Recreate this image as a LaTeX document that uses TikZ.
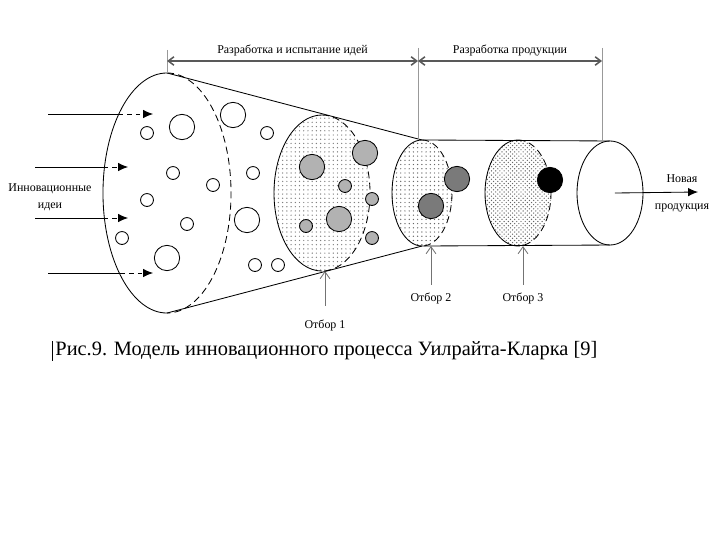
\documentclass[tikz,border=0pt]{standalone}
\usepackage{fontspec}
\setmainfont{Liberation Serif}
\usetikzlibrary{arrows.meta,positioning,shapes.geometric,patterns}

\tikzset{
  stage/.style={ellipse,inner sep=0pt,outer sep=0pt},
  lbl/.style={font=\fontsize{8.5}{12}\selectfont,inner sep=1pt,align=center},
  idea/.style={draw,fill=white},
  dimln/.style={draw=black!65,line width=1.1pt,
    {Straight Barb[length=4pt,width=6pt]}-{Straight Barb[length=4pt,width=6pt]}},
  extln/.style={draw=black!40,line width=0.5pt},
  selarr/.style={draw=black!55,-{Straight Barb[length=5pt,width=7pt]}},
  inarr/.style={-{Latex[length=7pt,width=6pt]}},
  halfdash/.style={dash pattern=on 5pt off 3pt}
}
% solid left half, dashed right half of an oval node
\newcommand\halfoval[3]{%
  \draw (#1.north) arc[start angle=90,end angle=270,x radius=#2,y radius=#3];
  \draw[halfdash] (#1.north) arc[start angle=90,end angle=-90,x radius=#2,y radius=#3];}

\begin{document}
\begin{tikzpicture}[x=0.025cm,y=-0.025cm,line width=0.6pt]
  \useasboundingbox (0,0) rectangle (720,540);

  % stages
  \node[stage,minimum width=3.2cm,minimum height=6cm] (big) at (167,193) {};
  \node[stage,minimum width=2.4cm,minimum height=3.9cm,pattern=dots,pattern color=black!50] (e1) at (322,193) {};
  \node[stage,minimum width=1.5cm,minimum height=2.65cm,pattern=dots,pattern color=black!60] (e2) at (422,193) {};
  \node[stage,minimum width=1.65cm,minimum height=2.65cm,pattern=crosshatch dots,pattern color=black!60] (e3) at (518,193) {};
  \node[stage,draw,minimum width=1.65cm,minimum height=2.6cm] (e4) at (610,193) {};

  % funnel and tube
  \draw (big.north) -- (e2.north) -- (e4.north);
  \draw (big.south) -- (e2.south) -- (e4.south);
  \halfoval{big}{1.6cm}{3cm}
  \halfoval{e1}{1.2cm}{1.95cm}
  \halfoval{e2}{0.75cm}{1.325cm}
  \halfoval{e3}{0.825cm}{1.325cm}

  % ideas
  \foreach \x/\y/\r in {182/127/9pt,147/133/4.6pt,233/115/9pt,267/133/4.6pt,173/173/4.6pt,
      253/173/4.6pt,213/185/4.6pt,147/200/4.6pt,247/220/9pt,187/224/4.6pt,
      122/238/4.6pt,167/258/9pt,255/265/4.6pt,278/265/4.6pt}
    \draw[idea] (\x,\y) circle[radius=\r];
  \foreach \x/\y/\r in {312/167/9pt,365/153/9pt,345/186/4.6pt,372/199/4.6pt,
      339/219/9pt,306/226/4.6pt,372/238/4.6pt}
    \draw[idea,fill=black!30] (\x,\y) circle[radius=\r];
  \draw[idea,fill=black!52] (457,179) circle[radius=9pt];
  \draw[idea,fill=black!52] (431,206) circle[radius=9pt];
  \draw[idea,fill=black] (550,180) circle[radius=9pt];

  % incoming ideas
  \foreach \y/\xa/\xb/\xc [count=\i] in {114/48/119/153,167/35/104/128,218/35/104/128,273/48/121/153}{
    \coordinate (src\i) at (\xa,\y);
    \coordinate (rim\i) at (\xb,\y);
    \coordinate (tip\i) at (\xc,\y);
    \draw (src\i) -- (rim\i);
    \draw[dashed,inarr] (rim\i) -- (tip\i);
  }
  \node[lbl] (ideas) at (50,197) {Инновационные\\идеи};

  % phases
  \coordinate (d0) at (167,61);
  \coordinate (d1) at (418,61);
  \coordinate (d2) at (602,61);
  \draw[extln] ([yshift=0.28cm]d0) -- (big.north);
  \draw[extln] ([yshift=0.33cm]d1) -- (d1 |- e2.north);
  \draw[extln] ([yshift=0.33cm]d2) -- (d2 |- e4.north);
  \draw[dimln] (d0) -- node[lbl,above=2pt] (ph1) {Разработка и испытание идей} (d1);
  \draw[dimln] (d1) -- node[lbl,above=2pt] (ph2) {Разработка продукции} (d2);

  % selections
  \node[lbl] (sel1) at (325,325) {Отбор 1};
  \node[lbl] (sel2) at (431,298) {Отбор 2};
  \node[lbl] (sel3) at (523,298) {Отбор 3};
  \draw[selarr] ([yshift=0.3cm]sel1.north) -- (sel1.north |- e1.south);
  \draw[selarr] ([yshift=0.15cm]sel2.north) -- (sel2.north |- e2.south);
  \draw[selarr] ([yshift=0.15cm]sel3.north) -- (sel3.north |- e3.south);

  % new product
  \coordinate (out) at (698,192);
  \draw[inarr] ([xshift=0.12cm]e4.center) -- (out);
  \node[lbl] (newp) at (682,179) {Новая};
  \node[lbl] (prod) at (682,208) {продукция};

  % caption
  \node[font=\fontsize{14.5}{18}\selectfont,anchor=west,inner sep=0pt] (cap) at (55,351)
    {Рис.9. Модель инновационного процесса Уилрайта-Кларка [9]};
  \draw[line width=0.7pt] ([xshift=-1.5pt]cap.north west) -- ([xshift=-1.5pt]cap.south west);
\end{tikzpicture}
\end{document}
